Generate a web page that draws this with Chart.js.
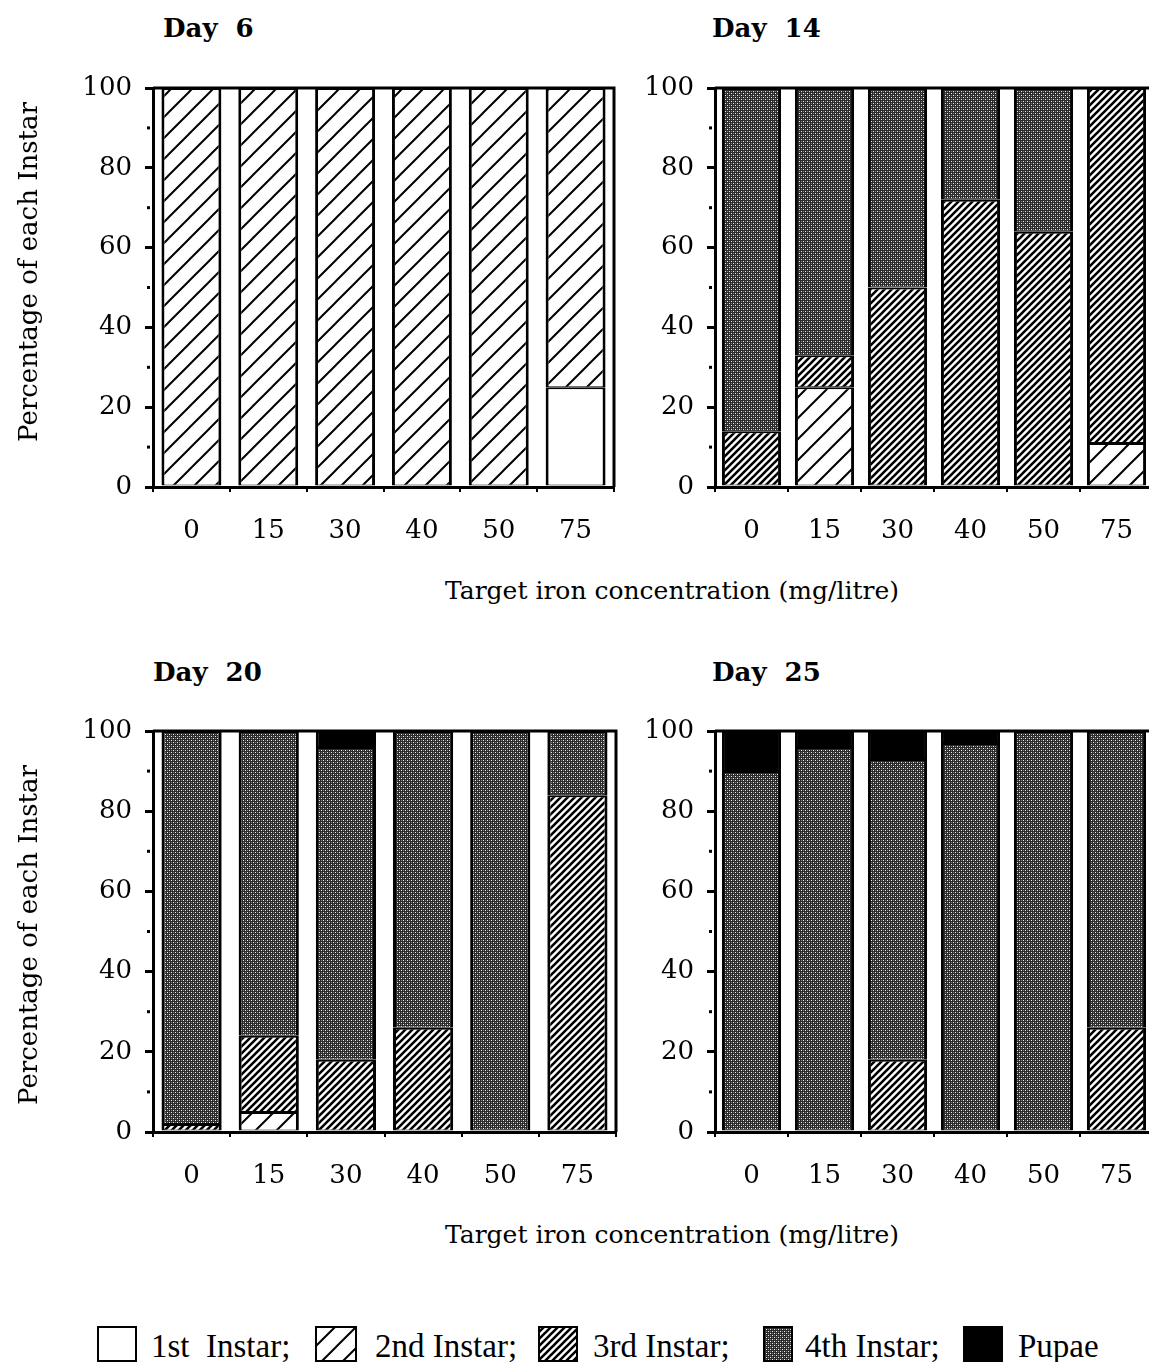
<!DOCTYPE html>
<html>
<head>
<meta charset="utf-8">
<title>Instar composition by iron concentration</title>
<script src="https://cdn.jsdelivr.net/npm/chart.js@4.4.1/dist/chart.umd.min.js"></script>
<style>
  html, body { margin: 0; padding: 0; background: #fff; }
  #fig { position: relative; width: 1149px; height: 1362px; overflow: hidden; background: #fff; }
  #fig canvas { position: absolute; }
  .t { position: absolute; white-space: pre; color: #000; line-height: 1; }
  .day { font: bold 26px "DejaVu Serif", serif; }
  .xt { font: 25px "DejaVu Serif", serif; width: 600px; text-align: center; }
  .yt { font: 26px "DejaVu Serif", serif; transform: translate(-50%, -50%) rotate(-90deg); }
  .lg { font: 33px "Liberation Serif", serif; }
  .sw { position: absolute; }
</style>
</head>
<body>
<div id="fig">
  <canvas id="c6" width="640" height="520" style="left:0px;top:50px"></canvas>
  <canvas id="c14" width="560" height="520" style="left:620px;top:50px"></canvas>
  <canvas id="c20" width="640" height="522" style="left:0px;top:693px"></canvas>
  <canvas id="c25" width="560" height="522" style="left:620px;top:693px"></canvas>

  <div class="t day" style="left:163px;top:13px">Day  6</div>
  <div class="t day" style="left:712px;top:13px">Day  14</div>
  <div class="t day" style="left:153px;top:657px">Day  20</div>
  <div class="t day" style="left:712px;top:657px">Day  25</div>

  <div class="t yt" style="left:28px;top:272px">Percentage of each Instar</div>
  <div class="t yt" style="left:28px;top:935px">Percentage of each Instar</div>

  <div class="t xt" style="left:372px;top:576px">Target iron concentration (mg/litre)</div>
  <div class="t xt" style="left:372px;top:1220px">Target iron concentration (mg/litre)</div>

  <canvas class="sw" id="sw0" width="40" height="36" style="left:97px;top:1326px"></canvas>
  <div class="t lg" style="left:151px;top:1328px">1st  Instar;</div>
  <canvas class="sw" id="sw1" width="42" height="36" style="left:315px;top:1326px"></canvas>
  <div class="t lg" style="left:375px;top:1328px">2nd Instar;</div>
  <canvas class="sw" id="sw2" width="40" height="36" style="left:538px;top:1326px"></canvas>
  <div class="t lg" style="left:593px;top:1328px">3rd Instar;</div>
  <canvas class="sw" id="sw3" width="30" height="36" style="left:763px;top:1326px"></canvas>
  <div class="t lg" style="left:805px;top:1328px">4th Instar;</div>
  <canvas class="sw" id="sw4" width="40" height="36" style="left:963px;top:1326px"></canvas>
  <div class="t lg" style="left:1018px;top:1328px">Pupae</div>
</div>

<script>
// Iron concentration groups (mg/litre) and the labelled y ticks
const categories = ['0', '15', '30', '40', '50', '75'];
const yTickLabels = [0, 20, 40, 60, 80, 100];
const stageNames = ['1st Instar', '2nd Instar', '3rd Instar', '4th Instar', 'Pupae'];

// Percentage of larvae in each stage, per concentration group
// Day 6
const day6First  = [0, 0, 0, 0, 0, 25];
const day6Second = [100, 100, 100, 100, 100, 75];
const day6Third  = [0, 0, 0, 0, 0, 0];
const day6Fourth = [0, 0, 0, 0, 0, 0];
const day6Pupae  = [0, 0, 0, 0, 0, 0];
// Day 14
const day14First  = [0, 0, 0, 0, 0, 0];
const day14Second = [0, 25, 0, 0, 0, 11];
const day14Third  = [14, 8, 50, 72, 64, 89];
const day14Fourth = [86, 67, 50, 28, 36, 0];
const day14Pupae  = [0, 0, 0, 0, 0, 0];
// Day 20
const day20First  = [0, 0, 0, 0, 0, 0];
const day20Second = [0, 5, 0, 0, 0, 0];
const day20Third  = [2, 19, 18, 26, 0, 84];
const day20Fourth = [98, 76, 78, 74, 100, 16];
const day20Pupae  = [0, 0, 4, 0, 0, 0];
// Day 25
const day25First  = [0, 0, 0, 0, 0, 0];
const day25Second = [0, 0, 0, 0, 0, 0];
const day25Third  = [0, 0, 18, 0, 0, 26];
const day25Fourth = [90, 96, 75, 97, 100, 74];
const day25Pupae  = [10, 4, 7, 3, 0, 0];

// ---- fill patterns for the five stages ----
function makeTile(w, h, draw) {
  const c = document.createElement('canvas');
  c.width = w; c.height = h;
  draw(c.getContext('2d'), w, h);
  return c;
}
function hatchTile(period, lw) {
  return makeTile(period, period, (g, w, h) => {
    g.fillStyle = '#fff';
    g.fillRect(0, 0, w, h);
    g.strokeStyle = '#000';
    g.lineWidth = lw;
    g.beginPath();
    g.moveTo(-2, h + 2); g.lineTo(w + 2, -2);
    g.moveTo(-2, 2); g.lineTo(2, -2);
    g.moveTo(w - 2, h + 2); g.lineTo(w + 2, h - 2);
    g.stroke();
  });
}
function stippleTile() {
  return makeTile(4, 4, (g) => {
    g.fillStyle = '#2c2c2c';
    g.fillRect(0, 0, 4, 4);
    g.fillStyle = '#f2f2f2';
    g.fillRect(1, 1, 1, 1);
    g.fillRect(3, 3, 1, 1);
    g.fillStyle = '#7a7a7a';
    g.fillRect(1, 3, 1, 1);
    g.fillRect(3, 1, 1, 1);
  });
}
const tiles = [null, hatchTile(21, 2), hatchTile(7, 2.6), stippleTile(), null];
function stageFills(ctx) {
  return [
    '#ffffff',
    ctx.createPattern(tiles[1], 'repeat'),
    ctx.createPattern(tiles[2], 'repeat'),
    ctx.createPattern(tiles[3], 'repeat'),
    '#000000'
  ];
}

// ---- plugins: box frame and minor y ticks ----
const framePlugin = {
  id: 'frame',
  afterDatasetsDraw(chart) {
    const { ctx, chartArea: a } = chart;
    ctx.save();
    ctx.strokeStyle = '#000';
    ctx.lineWidth = 3;
    ctx.beginPath();
    ctx.moveTo(a.left, a.top);
    ctx.lineTo(a.right, a.top);
    ctx.lineTo(a.right, a.bottom);
    ctx.stroke();
    ctx.restore();
  }
};
const minorTickPlugin = {
  id: 'minorTicks',
  afterDraw(chart) {
    const ys = chart.scales.y, a = chart.chartArea, ctx = chart.ctx;
    ctx.save();
    ctx.fillStyle = '#000';
    ys.ticks.forEach(t => {
      if (!yTickLabels.includes(t.value)) {
        const y = ys.getPixelForValue(t.value);
        ctx.fillRect(a.left - 6, y - 1.5, 3, 3);
      }
    });
    ctx.restore();
  }
};

const tickFont = { family: 'DejaVu Serif', size: 26 };
const Y_AXIS_WIDTH = 80;

function buildChart(id, series, geo) {
  const canvas = document.getElementById(id);
  const ctx = canvas.getContext('2d');
  const fills = stageFills(ctx);
  const datasets = stageNames.map((name, i) => ({
    label: name,
    data: series[i].map(v => (v > 0 ? v : null)),
    backgroundColor: fills[i],
    borderColor: '#000',
    borderWidth: { left: 3, right: 3, top: 2, bottom: 1 },
    borderSkipped: false,
    inflateAmount: 0,
    barPercentage: geo.barPct,
    categoryPercentage: 1
  }));
  return new Chart(ctx, {
    type: 'bar',
    data: { labels: categories, datasets },
    options: {
      responsive: false,
      animation: false,
      devicePixelRatio: 1,
      events: [],
      layout: { padding: { left: geo.plotLeft - Y_AXIS_WIDTH, right: geo.padR, top: 38, bottom: 0 } },
      plugins: { legend: { display: false }, tooltip: { enabled: false } },
      scales: {
        x: {
          stacked: true,
          grid: { offset: true, drawOnChartArea: false, tickLength: 5, lineWidth: 2, color: '#000' },
          border: { color: '#000', width: 3 },
          ticks: { font: tickFont, color: '#000', padding: 24, maxRotation: 0, autoSkip: false },
          afterFit(s) { s.height = 83; }
        },
        y: {
          stacked: true,
          min: 0,
          max: 100,
          grid: {
            drawOnChartArea: false,
            tickLength: 8,
            lineWidth: 3,
            color: c => (c.tick && yTickLabels.includes(c.tick.value) ? '#000' : 'rgba(0,0,0,0)')
          },
          border: { color: '#000', width: 3 },
          ticks: {
            stepSize: 10,
            autoSkip: false,
            font: tickFont,
            color: '#000',
            padding: 13,
            callback: v => (yTickLabels.includes(v) ? String(v) : '')
          },
          afterFit(s) { s.width = Y_AXIS_WIDTH; }
        }
      }
    },
    plugins: [framePlugin, minorTickPlugin]
  });
}

buildChart('c6',  [day6First, day6Second, day6Third, day6Fourth, day6Pupae],       { plotLeft: 153, padR: 26, barPct: 0.78 });
buildChart('c14', [day14First, day14Second, day14Third, day14Fourth, day14Pupae],  { plotLeft: 95,  padR: 27, barPct: 0.81 });
buildChart('c20', [day20First, day20Second, day20Third, day20Fourth, day20Pupae],  { plotLeft: 153, padR: 24, barPct: 0.78 });
buildChart('c25', [day25First, day25Second, day25Third, day25Fourth, day25Pupae],  { plotLeft: 95,  padR: 27, barPct: 0.81 });

// legend swatches use the same fills as the bars
['sw0', 'sw1', 'sw2', 'sw3', 'sw4'].forEach((id, i) => {
  const c = document.getElementById(id);
  const g = c.getContext('2d');
  const fills = stageFills(g);
  g.fillStyle = '#000';
  g.fillRect(0, 0, c.width, c.height);
  g.fillStyle = fills[i];
  g.fillRect(2, 2, c.width - 4, c.height - 4);
});
</script>
</body>
</html>
